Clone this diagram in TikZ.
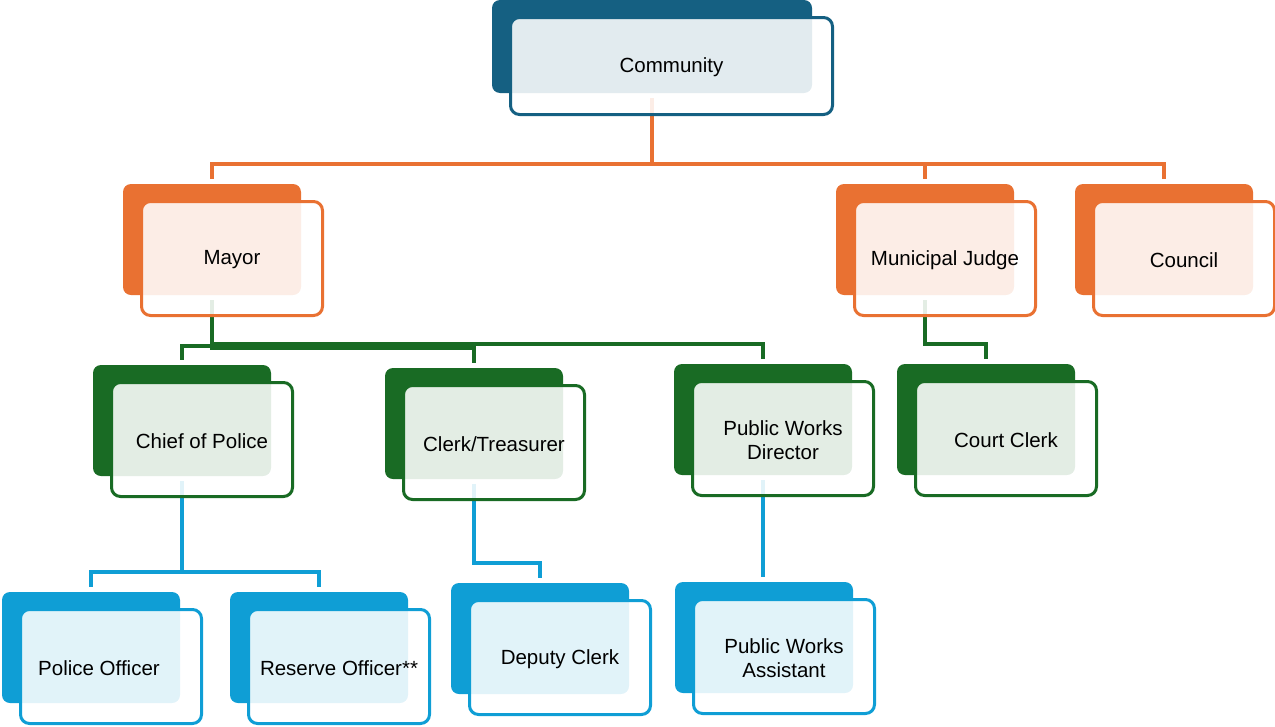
\documentclass[tikz,border=0pt]{standalone}
\usepackage{fontspec}
\setmainfont{Liberation Sans}
\usetikzlibrary{backgrounds}
\definecolor{cblue}{HTML}{156082}
\definecolor{corange}{HTML}{E97132}
\definecolor{cgreen}{HTML}{196B24}
\definecolor{clight}{HTML}{0F9ED5}
\tikzset{
  backbox/.style={rectangle, rounded corners=8pt, inner sep=0pt, outer sep=0pt,
    minimum width=178pt, minimum height=111pt, anchor=north west},
  frontbox/.style={rectangle, rounded corners=9pt, line width=3pt, fill=white,
    fill opacity=0.88, inner sep=0pt, outer sep=0pt,
    minimum width=181pt, minimum height=114pt, anchor=north west},
  lbl/.style={text=black, align=center, inner sep=0pt, yshift=-1.5pt,
    font=\fontsize{20.5}{24}\selectfont},
  conn/.style={line width=3.4pt},
}
\newcommand\orgunit[4]{%
  \node[backbox, fill=#2] (#1-b) at (#3,#4) {};
  \node[frontbox, draw=#2] (#1-f) at ([xshift=18.5pt,yshift=-17.5pt]#1-b.north west) {};
  \coordinate (#1-in) at ([yshift=5pt]#1-b.north);
  \coordinate (#1-out) at ([yshift=-5pt]#1-b.south);
}
\begin{document}
\begin{tikzpicture}[x=1pt,y=-1pt]
\useasboundingbox (0,0) rectangle (1275,726);
% Community
\node[backbox, fill=cblue, minimum width=320pt, minimum height=93pt] (comm-b) at (492,0) {};
\node[frontbox, draw=cblue, minimum width=322pt, minimum height=97pt] (comm-f) at (510.5,17.5) {};
\coordinate (comm-out) at ([yshift=-5pt]comm-b.south);
\node[lbl] (comm) at (comm-f.center) {Community};
% level 1
\orgunit{mayor}{corange}{123}{184}
\node[lbl] (mayor) at (mayor-f.center) {Mayor};
\orgunit{judge}{corange}{836}{184}
\node[lbl] (judge) at (judge-f.center) {Municipal Judge};
\orgunit{council}{corange}{1075}{184}
\node[lbl] (council) at (council-f.center) {Council};
% level 2
\orgunit{chief}{cgreen}{93}{365}
\node[lbl] (chief) at (chief-f.center) {Chief of Police};
\orgunit{clerk}{cgreen}{385}{368}
\node[lbl] (clerk) at (clerk-f.center) {Clerk/Treasurer};
\orgunit{pwd}{cgreen}{674}{364}
\node[lbl] (pwd) at (pwd-f.center) {Public Works\\Director};
\orgunit{court}{cgreen}{897}{364}
\node[lbl] (court) at (court-f.center) {Court Clerk};
% level 3
\orgunit{police}{clight}{2}{592}
\node[lbl] (police) at ([xshift=-12pt]police-f.center) {Police Officer};
\orgunit{reserve}{clight}{230}{592}
\node[lbl] (reserve) at (reserve-f.center) {Reserve Officer**};
\orgunit{deputy}{clight}{451}{583}
\node[lbl] (deputy) at (deputy-f.center) {Deputy Clerk};
\orgunit{pwa}{clight}{675}{582}
\node[lbl] (pwa) at (pwa-f.center) {Public Works\\Assistant};
% connectors
\begin{pgfonlayer}{background}
\draw[conn, corange] (comm-out) -- ++(0,66) -| (mayor-in);
\draw[conn, corange] (comm-out) -- ++(0,66) -| (judge-in);
\draw[conn, corange] (comm-out) -- ++(0,66) -| (council-in);
\draw[conn, cgreen] (mayor-out) -- ++(0,46) -| (chief-in);
\draw[conn, cgreen] (mayor-out) -- ++(0,48) -| (clerk-in);
\draw[conn, cgreen] (mayor-out) -- ++(0,44) -| (pwd-in);
\draw[conn, cgreen] (judge-out) -- ++(0,44) -| (court-in);
\draw[conn, clight] (chief-out) -- ++(0,91) -| (police-in);
\draw[conn, clight] (chief-out) -- ++(0,91) -| (reserve-in);
\draw[conn, clight] (clerk-out) -- ++(0,79) -| (deputy-in);
\draw[conn, clight] (pwd-out) -- (pwd-out |- pwa-in);
\end{pgfonlayer}
\end{tikzpicture}
\end{document}
